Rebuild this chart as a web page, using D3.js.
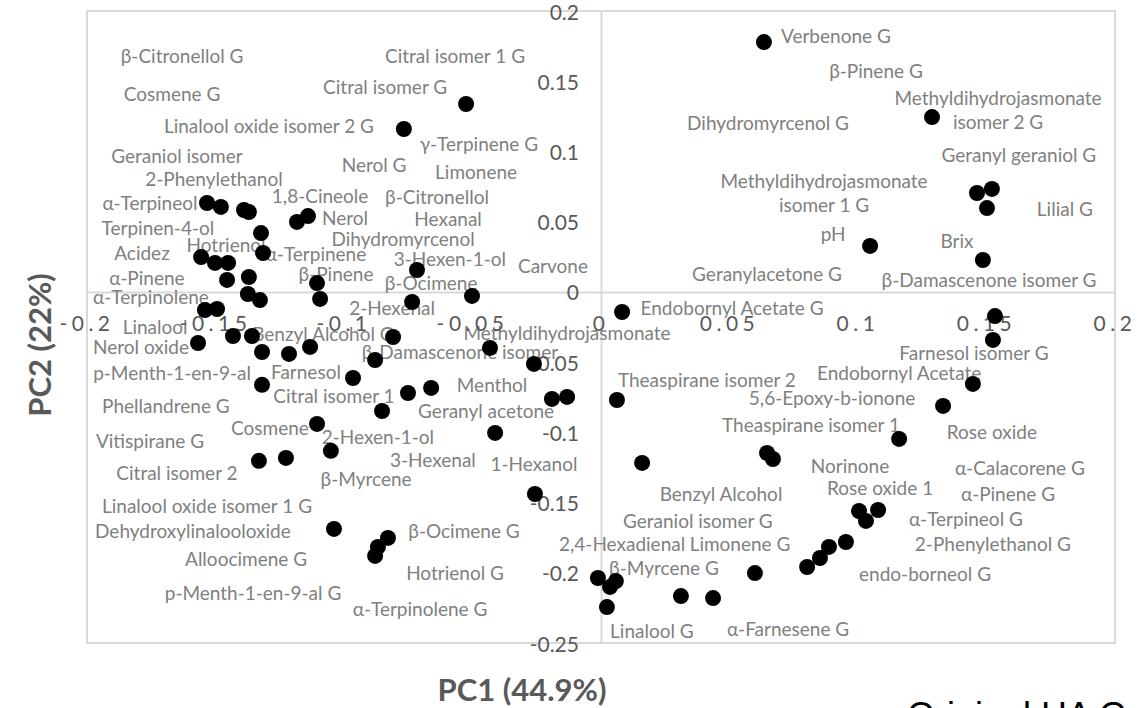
<!DOCTYPE html>
<html>
<head>
<meta charset="utf-8">
<script src="https://cdn.jsdelivr.net/npm/d3@7"></script>
<style>
  html, body { margin: 0; padding: 0; background: #ffffff; overflow: hidden; }
  svg { display: block; }
</style>
</head>
<body>
<svg id="chart" width="1140" height="708"></svg>
<script>
// ---------- DATA ----------
// Scores (PC1, PC2) of each plotted point
const pointsPC1 = [0.0634, -0.0525, -0.0767, 0.1288, 0.1463, 0.1521, 0.1502, 0.1047, 0.1486, 0.1533,
  0.1525, 0.1447, 0.1331, 0.1160, 0.0646, 0.0669, 0.1004, 0.1078, 0.1031, 0.0953,
  0.0887, 0.0852, 0.0802, 0.0599, 0.0311, 0.0436, -0.0012, 0.0058, 0.0035, 0.0023,
  0.0160, 0.0062, 0.0082, -0.0257, -0.0412, -0.0191, -0.0132, -0.0261, -0.0432, -0.0502,
  -0.0716, -0.0735, -0.0809, -0.0879, -0.0661, -0.0751, -0.0852, -0.0965, -0.1132, -0.1214,
  -0.1319, -0.1358, -0.1432, -0.1568, -0.1541, -0.1494, -0.1374, -0.1327, -0.1105, -0.1093,
  -0.1455, -0.1370, -0.1556, -0.1502, -0.1451, -0.1323, -0.1315, -0.1533, -0.1479, -0.1389,
  -0.1183, -0.1140, -0.1105, -0.1319, -0.1331, -0.1226, -0.1051, -0.1039, -0.0829, -0.0868,
  -0.0879, -0.1370];
const pointsPC2 = [0.1779, 0.1338, 0.1160, 0.1245, 0.0704, 0.0733, 0.0597, 0.0327, 0.0227, -0.0172,
  -0.0342, -0.0655, -0.0812, -0.1047, -0.1147, -0.1190, -0.1560, -0.1553, -0.1631, -0.1781,
  -0.1816, -0.1895, -0.1959, -0.2002, -0.2166, -0.2180, -0.2037, -0.2059, -0.2101, -0.2244,
  -0.1218, -0.0770, -0.0143, -0.1439, -0.1004, -0.0762, -0.0748, -0.0513, -0.0399, -0.0029,
  0.0156, -0.0072, -0.0321, -0.0485, -0.0684, -0.0720, -0.0848, -0.0613, -0.0392, -0.0442,
  -0.0428, -0.0314, -0.0314, -0.0364, -0.0129, -0.0122, -0.0015, -0.0058, 0.0063, -0.0050,
  0.0085, 0.0106, 0.0248, 0.0206, 0.0206, 0.0419, 0.0277, 0.0633, 0.0605, 0.0583,
  0.0498, 0.0540, -0.0940, -0.0662, -0.1203, -0.1182, -0.1132, -0.1688, -0.1752, -0.1816,
  -0.1880, 0.0569];

// Variable names and the (PC1, PC2) position where each name is written
const labelNames = ["β-Citronellol G", "Cosmene G", "Linalool oxide isomer 2 G", "Geraniol isomer", "2-Phenylethanol",
  "1,8-Cineole", "α-Terpineol", "Nerol", "Terpinen-4-ol", "Citral isomer 1 G", "Citral isomer G", "Nerol G",
  "γ-Terpinene G", "Limonene", "β-Citronellol", "Hexanal", "Dihydromyrcenol", "3-Hexen-1-ol", "Carvone",
  "β-Ocimene", "2-Hexenal", "Methyldihydrojasmonate", "β-Damascenone isomer", "Menthol", "Geranyl acetone",
  "Citral isomer 1", "Farnesol", "Benzyl Alcohol G", "β-Pinene", "α-Terpinene", "Hotrienol", "Acidez",
  "α-Pinene", "α-Terpinolene", "Linalool", "Nerol oxide", "p-Menth-1-en-9-al", "Phellandrene G", "Cosmene",
  "2-Hexen-1-ol", "Vitispirane G", "Citral isomer 2", "β-Myrcene", "3-Hexenal", "1-Hexanol",
  "Linalool oxide isomer 1 G", "Dehydroxylinalooloxide", "Alloocimene G", "p-Menth-1-en-9-al G", "β-Ocimene G",
  "Hotrienol G", "α-Terpinolene G", "2,4-Hexadienal", "β-Myrcene G", "Linalool G", "α-Farnesene G",
  "Limonene G", "Geraniol isomer G", "Benzyl Alcohol", "Norinone", "Rose oxide 1", "α-Calacorene G",
  "α-Pinene G", "α-Terpineol G", "2-Phenylethanol G", "endo-borneol G", "Theaspirane isomer 1", "Rose oxide",
  "5,6-Epoxy-b-ionone", "Endobornyl Acetate", "Farnesol isomer G", "Theaspirane isomer 2",
  "Endobornyl Acetate G", "Geranylacetone G", "β-Damascenone isomer G", "pH", "Brix", "Lilial G",
  "Methyldihydrojasmonate\nisomer 1 G", "Geranyl geraniol G", "Methyldihydrojasmonate\nisomer 2 G",
  "Dihydromyrcenol G", "β-Pinene G", "Verbenone G"];
const labelPC1 = [-0.1630, -0.1669, -0.1292, -0.1650, -0.1506, -0.1093, -0.1755, -0.0996, -0.1724, -0.0568,
  -0.0840, -0.0883, -0.0475, -0.0486, -0.0638, -0.0595, -0.0770, -0.0588, -0.0187, -0.0661,
  -0.0813, -0.0132, -0.0549, -0.0424, -0.0447, -0.1039, -0.1148, -0.1082, -0.1031, -0.1109,
  -0.1459, -0.1786, -0.1767, -0.1751, -0.1735, -0.1790, -0.1669, -0.1693, -0.1288, -0.0868,
  -0.1755, -0.1650, -0.0914, -0.0654, -0.0261, -0.1533, -0.1588, -0.1381, -0.1354, -0.0533,
  -0.0568, -0.0704, 0.0082, 0.0245, 0.0198, 0.0728, 0.0541, 0.0377, 0.0467, 0.0969,
  0.1086, 0.1630, 0.1584, 0.1420, 0.1525, 0.1261, 0.0817, 0.1521, 0.0899, 0.1160,
  0.1451, 0.0412, 0.0510, 0.0646, 0.1510, 0.0903, 0.1385, 0.1805, 0.0868, 0.1626,
  0.1545, 0.0650, 0.1070, 0.0914];
const labelPC2 = [0.1686, 0.1416, 0.1188, 0.0975, 0.0811, 0.0690, 0.0640, 0.0533, 0.0462, 0.1686,
  0.1465, 0.0911, 0.1060, 0.0861, 0.0683, 0.0526, 0.0384, 0.0241, 0.0191, 0.0070,
  -0.0107, -0.0285, -0.0420, -0.0656, -0.0840, -0.0734, -0.0563, -0.0293, 0.0135, 0.0277,
  0.0341, 0.0284, 0.0106, -0.0029, -0.0242, -0.0385, -0.0570, -0.0805, -0.0961, -0.1025,
  -0.1054, -0.1282, -0.1325, -0.1190, -0.1218, -0.1517, -0.1695, -0.1894, -0.2137, -0.1695,
  -0.1994, -0.2250, -0.1788, -0.1959, -0.2407, -0.2393, -0.1788, -0.1624, -0.1431, -0.1232,
  -0.1389, -0.1246, -0.1431, -0.1609, -0.1788, -0.2002, -0.0940, -0.0990, -0.0748, -0.0570,
  -0.0427, -0.0620, -0.0107, 0.0135, 0.0092, 0.0419, 0.0370, 0.0597, 0.0711, 0.0982,
  0.1301, 0.1210, 0.1580, 0.1829];

const xTickValues = [-0.2, -0.15, -0.1, -0.05, 0, 0.05, 0.1, 0.15, 0.2];
const xTickLabels = ["-0.2", "-0.15", "-0.1", "-0.05", "0", "0.05", "0.1", "0.15", "0.2"];
const yTickValues = [-0.25, -0.2, -0.15, -0.1, -0.05, 0, 0.05, 0.1, 0.15, 0.2];
const yTickLabels = ["-0.25", "-0.2", "-0.15", "-0.1", "-0.05", "0", "0.05", "0.1", "0.15", "0.2"];

const xTitle = "PC1 (44.9%)";
const yTitle = "PC2 (22%)";
const cornerNote = "Original HA G";

// ---------- DRAW ----------
const svg = d3.select("#chart");
const plotLeft = 87, plotRight = 1115, plotTop = 11, plotBottom = 643;
const x = d3.scaleLinear().domain([-0.2, 0.2]).range([plotLeft, plotRight]);
const y = d3.scaleLinear().domain([-0.25, 0.2]).range([plotBottom, plotTop]);

const gridColor = "#d9d9d9";
const labelFont = "Lato, 'Open Sans', sans-serif";

// plot area border
svg.append("rect")
  .attr("x", plotLeft).attr("y", plotTop)
  .attr("width", plotRight - plotLeft).attr("height", plotBottom - plotTop)
  .attr("fill", "none").attr("stroke", gridColor).attr("stroke-width", 2);

// zero axes via d3 axes (lines only)
const xAxisG = svg.append("g").attr("transform", `translate(0,${y(0)})`)
  .call(d3.axisBottom(x).tickValues([]).tickSizeOuter(0));
xAxisG.select(".domain").attr("stroke", gridColor).attr("stroke-width", 2);
const yAxisG = svg.append("g").attr("transform", `translate(${x(0)},0)`)
  .call(d3.axisLeft(y).tickValues([]).tickSizeOuter(0));
yAxisG.select(".domain").attr("stroke", gridColor).attr("stroke-width", 2);

// variable name labels
const labels = labelNames.map((n, i) => ({ name: n, px: labelPC1[i], py: labelPC2[i] }));
const lg = svg.append("g")
  .attr("font-family", labelFont).attr("font-size", 19).attr("fill", "#808080")
  .attr("text-anchor", "middle");
labels.forEach(d => {
  const lines = d.name.split("\n");
  const t = lg.append("text")
    .attr("x", x(d.px))
    .attr("y", y(d.py))
    .attr("dominant-baseline", "central");
  const lh = 24;
  lines.forEach((ln, k) => {
    t.append("tspan")
      .attr("x", x(d.px))
      .attr("dy", k === 0 ? -(lines.length - 1) * lh / 2 : lh)
      .text(ln);
  });
});

// tick labels
const tickColor = "#595959";
svg.append("g").selectAll("text").data(xTickValues).join("text")
  .attr("x", d => x(d)).attr("y", y(0) + 31)
  .attr("text-anchor", "middle").attr("dominant-baseline", "central")
  .attr("font-family", labelFont).attr("font-size", 21).attr("letter-spacing", 4.5)
  .attr("fill", tickColor)
  .text((d, i) => xTickLabels[i]);

svg.append("g").selectAll("text").data(yTickValues).join("text")
  .attr("x", x(0) - 22).attr("y", d => y(d))
  .attr("text-anchor", "end").attr("dominant-baseline", "central")
  .attr("font-family", labelFont).attr("font-size", 21)
  .attr("fill", tickColor)
  .text((d, i) => yTickLabels[i]);

// points
const pts = pointsPC1.map((v, i) => ({ a: v, b: pointsPC2[i] }));
svg.append("g").selectAll("circle").data(pts).join("circle")
  .attr("cx", d => x(d.a)).attr("cy", d => y(d.b)).attr("r", 8)
  .attr("fill", "#000000");

// axis titles
svg.append("text")
  .attr("x", 522).attr("y", 689)
  .attr("text-anchor", "middle").attr("dominant-baseline", "central")
  .attr("font-family", labelFont).attr("font-weight", "bold").attr("font-size", 31)
  .attr("fill", tickColor).text(xTitle);

svg.append("text")
  .attr("transform", "translate(39,345) rotate(-90)")
  .attr("text-anchor", "middle").attr("dominant-baseline", "central")
  .attr("font-family", labelFont).attr("font-weight", "bold").attr("font-size", 31)
  .attr("fill", tickColor).text(yTitle);

// partially visible note at the bottom-right corner
svg.append("text")
  .attr("x", 907).attr("y", 728)
  .attr("font-family", "'Liberation Sans', Arial, sans-serif").attr("font-size", 36)
  .attr("fill", "#000000").text(cornerNote);
</script>
</body>
</html>
